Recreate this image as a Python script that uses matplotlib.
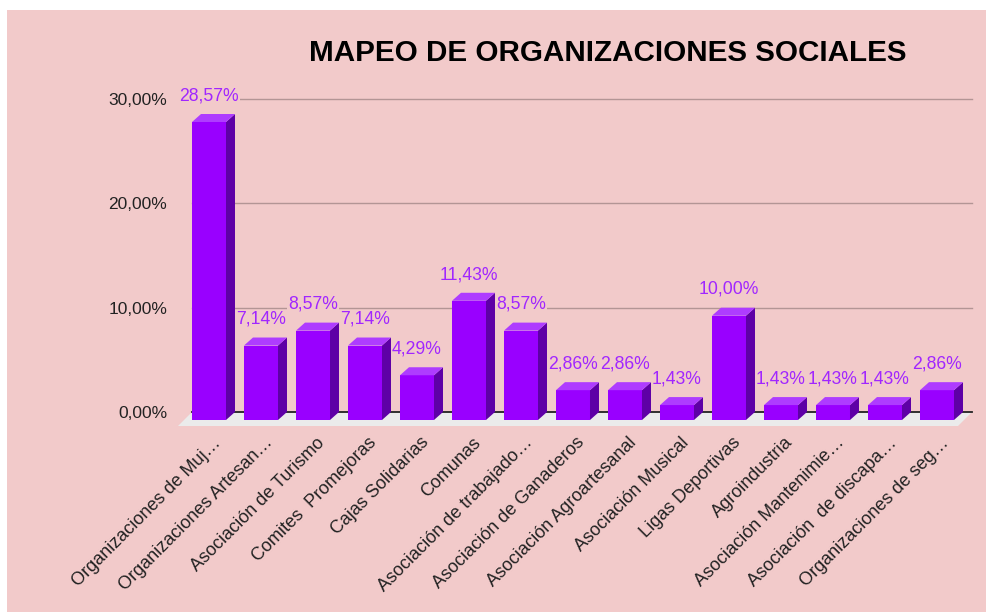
import matplotlib.pyplot as plt
from matplotlib.patches import Polygon, Rectangle

# datos del grafico
categorias = [
    "Organizaciones de Muj…",
    "Organizaciones Artesan…",
    "Asociación de Turismo",
    "Comites  Promejoras",
    "Cajas Solidarias",
    "Comunas",
    "Asociación de trabajado…",
    "Asociación de Ganaderos",
    "Asociación Agroartesanal",
    "Asociación Musical",
    "Ligas Deportivas",
    "Agroindustria",
    "Asociación Mantenimie…",
    "Asociación  de discapa…",
    "Organizaciones de seg…",
]
porcentajes = [28.57, 7.14, 8.57, 7.14, 4.29, 11.43, 8.57, 2.86, 2.86, 1.43,
               10.00, 1.43, 1.43, 1.43, 2.86]
ticks_y = [0, 10, 20, 30]
etiquetas_y = ["0,00%", "10,00%", "20,00%", "30,00%"]

fondo = "#F2CACA"
frente = "#9900FF"
lado = "#5E00A6"
arriba = "#AE3CFF"
color_etq = "#A126FF"

plt.rcParams['font.family'] = ['Liberation Sans', 'DejaVu Sans']

W, H = 987, 612
fig = plt.figure(figsize=(W / 100, H / 100), dpi=100)
fig.patch.set_facecolor("white")
fig.patches.append(Rectangle((7 / W, 0), 1, 1 - 10 / H, transform=fig.transFigure,
                             facecolor=fondo, edgecolor="none", zorder=-5))

ax = fig.add_axes([170 / W, 1 - 430 / H, 810 / W, 340 / H])
ax.set_facecolor("none")
ax.set_zorder(2)
n = len(porcentajes)
ax.set_xlim(-0.423, n + 0.154)
ax.set_ylim(-1.726, -1.726 + 340 / 10.43)

# profundidad 3D en unidades de datos
dx, dy = 9 / 52, 8 / 10.43
fdx, fdy = 14 / 52, 14 / 10.43
ancho = 0.654

# lineas de cuadricula (plano de fondo)
for t in ticks_y[1:]:
    ax.plot([0, n], [t, t], color="#B39595", lw=1, zorder=1)

# piso
ax.add_patch(Polygon([(0, 0), (n, 0), (n - fdx, -fdy), (-fdx, -fdy)],
                     closed=True, facecolor="#EBEBEB", edgecolor="none", zorder=1))
ax.plot([0, n], [0, 0], color="#222222", lw=1.3, zorder=2)

for i, v in enumerate(porcentajes):
    xb = i + 0.5 - ancho / 2
    xf = xb - dx
    # cara frontal
    ax.bar(xf + ancho / 2, v, width=ancho, bottom=-dy, color=frente, zorder=3)
    # cara lateral
    ax.add_patch(Polygon([(xf + ancho, -dy), (xb + ancho, 0), (xb + ancho, v),
                          (xf + ancho, v - dy)], closed=True,
                         facecolor=lado, edgecolor="none", zorder=3))
    # cara superior
    ax.add_patch(Polygon([(xf, v - dy), (xf + ancho, v - dy), (xb + ancho, v),
                          (xb, v)], closed=True,
                         facecolor=arriba, edgecolor="none", zorder=3))
    ax.annotate(f"{v:.2f}".replace(".", ",") + "%", (xf + ancho / 2, v),
                xytext=(0, 7), textcoords="offset points", ha="center",
                va="bottom", fontsize=12.7, color=color_etq, zorder=5,
                bbox=dict(boxstyle="square,pad=0.05", facecolor=fondo,
                          edgecolor="none"))

ax.set_yticks(ticks_y)
ax.set_yticklabels(etiquetas_y, fontsize=12.5, color="#222222")
ax.set_xticks([i + 0.5 - dx + 0.06 for i in range(n)])
ax.set_xticklabels(categorias, rotation=45, ha="right", rotation_mode="anchor",
                   fontsize=13, color="#222222")
ax.tick_params(axis="both", length=0)
ax.tick_params(axis="y", pad=2)
ax.tick_params(axis="x", pad=3)
for s in ax.spines.values():
    s.set_visible(False)

fig.text(608 / W, 1 - 53 / H, "MAPEO DE ORGANIZACIONES SOCIALES", ha="center",
         va="center", fontsize=21.3, fontweight="bold", color="black")

fig.savefig("out.png", dpi=100, facecolor=fig.get_facecolor())
